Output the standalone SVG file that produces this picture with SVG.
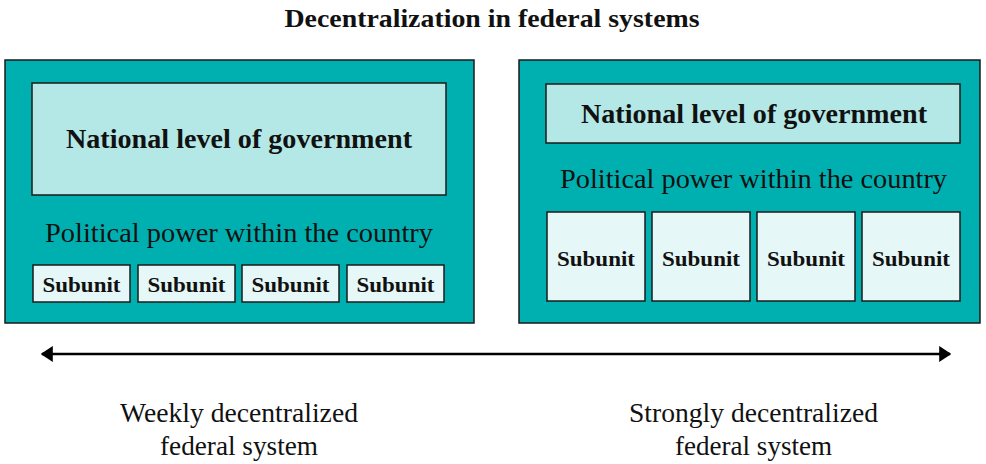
<svg xmlns="http://www.w3.org/2000/svg" width="986" height="464" viewBox="0 0 986 464">
<style>
.panel{fill:#00B0B0;stroke:#1a1a1a;stroke-width:1.5}
.nat{fill:#B3E8E6;stroke:#1a1a1a;stroke-width:1.5}
.sub{fill:#E6F7F7;stroke:#1a1a1a;stroke-width:1.5}
text{font-family:"Liberation Serif","Times New Roman",serif;fill:#111;text-anchor:middle}
.b{font-weight:bold}
.s{font-weight:bold;font-size:21px}
</style>
<defs>
<marker id="ah" viewBox="0 0 10 10" refX="9" refY="5" markerWidth="12" markerHeight="16" markerUnits="userSpaceOnUse" orient="auto-start-reverse" preserveAspectRatio="none">
<path d="M0,0 L10,5 L0,10 z" fill="#000"/>
</marker>
</defs>
<text x="492" y="27" class="b" font-size="26" textLength="415" lengthAdjust="spacingAndGlyphs">Decentralization in federal systems</text>
<g id="weak">
<rect class="panel" x="5" y="60" width="469" height="263"/>
<rect class="nat" x="32" y="83" width="414" height="112"/>
<text x="239" y="148" class="b" font-size="27" textLength="346" lengthAdjust="spacingAndGlyphs">National level of government</text>
<text x="239" y="242" font-size="28" textLength="388" lengthAdjust="spacingAndGlyphs">Political power within the country</text>
</g>
<g id="weak-sub1"><rect class="sub" x="33" y="265" width="97" height="37"/><text x="81.5" y="292" class="s" textLength="78" lengthAdjust="spacingAndGlyphs">Subunit</text></g>
<g id="weak-sub2"><rect class="sub" x="138" y="265" width="97" height="37"/><text x="186.5" y="292" class="s" textLength="78" lengthAdjust="spacingAndGlyphs">Subunit</text></g>
<g id="weak-sub3"><rect class="sub" x="242" y="265" width="97" height="37"/><text x="290.5" y="292" class="s" textLength="78" lengthAdjust="spacingAndGlyphs">Subunit</text></g>
<g id="weak-sub4"><rect class="sub" x="347" y="265" width="97" height="37"/><text x="395.5" y="292" class="s" textLength="78" lengthAdjust="spacingAndGlyphs">Subunit</text></g>
<g id="strong">
<rect class="panel" x="519" y="60" width="461" height="263"/>
<rect class="nat" x="546" y="84" width="414" height="59"/>
<text x="754" y="123" class="b" font-size="27" textLength="346" lengthAdjust="spacingAndGlyphs">National level of government</text>
<text x="753.5" y="188" font-size="28" textLength="387" lengthAdjust="spacingAndGlyphs">Political power within the country</text>
</g>
<g id="strong-sub1"><rect class="sub" x="547" y="212" width="98" height="89"/><text x="596" y="266" class="s" textLength="78" lengthAdjust="spacingAndGlyphs">Subunit</text></g>
<g id="strong-sub2"><rect class="sub" x="652" y="212" width="98" height="89"/><text x="701" y="266" class="s" textLength="78" lengthAdjust="spacingAndGlyphs">Subunit</text></g>
<g id="strong-sub3"><rect class="sub" x="757" y="212" width="98" height="89"/><text x="806" y="266" class="s" textLength="78" lengthAdjust="spacingAndGlyphs">Subunit</text></g>
<g id="strong-sub4"><rect class="sub" x="862" y="212" width="98" height="89"/><text x="911" y="266" class="s" textLength="78" lengthAdjust="spacingAndGlyphs">Subunit</text></g>
<g id="connectors">
<line x1="42" y1="354" x2="950" y2="354" stroke="#000" stroke-width="2.5" marker-start="url(#ah)" marker-end="url(#ah)"/>
</g>
<g id="label-weak">
<text x="239" y="422" font-size="27" textLength="238" lengthAdjust="spacingAndGlyphs">Weekly decentralized</text>
<text x="239" y="455" font-size="27" textLength="158" lengthAdjust="spacingAndGlyphs">federal system</text>
</g>
<g id="label-strong">
<text x="753.5" y="422" font-size="27" textLength="249" lengthAdjust="spacingAndGlyphs">Strongly decentralized</text>
<text x="753.5" y="455" font-size="27" textLength="157" lengthAdjust="spacingAndGlyphs">federal system</text>
</g>
</svg>
